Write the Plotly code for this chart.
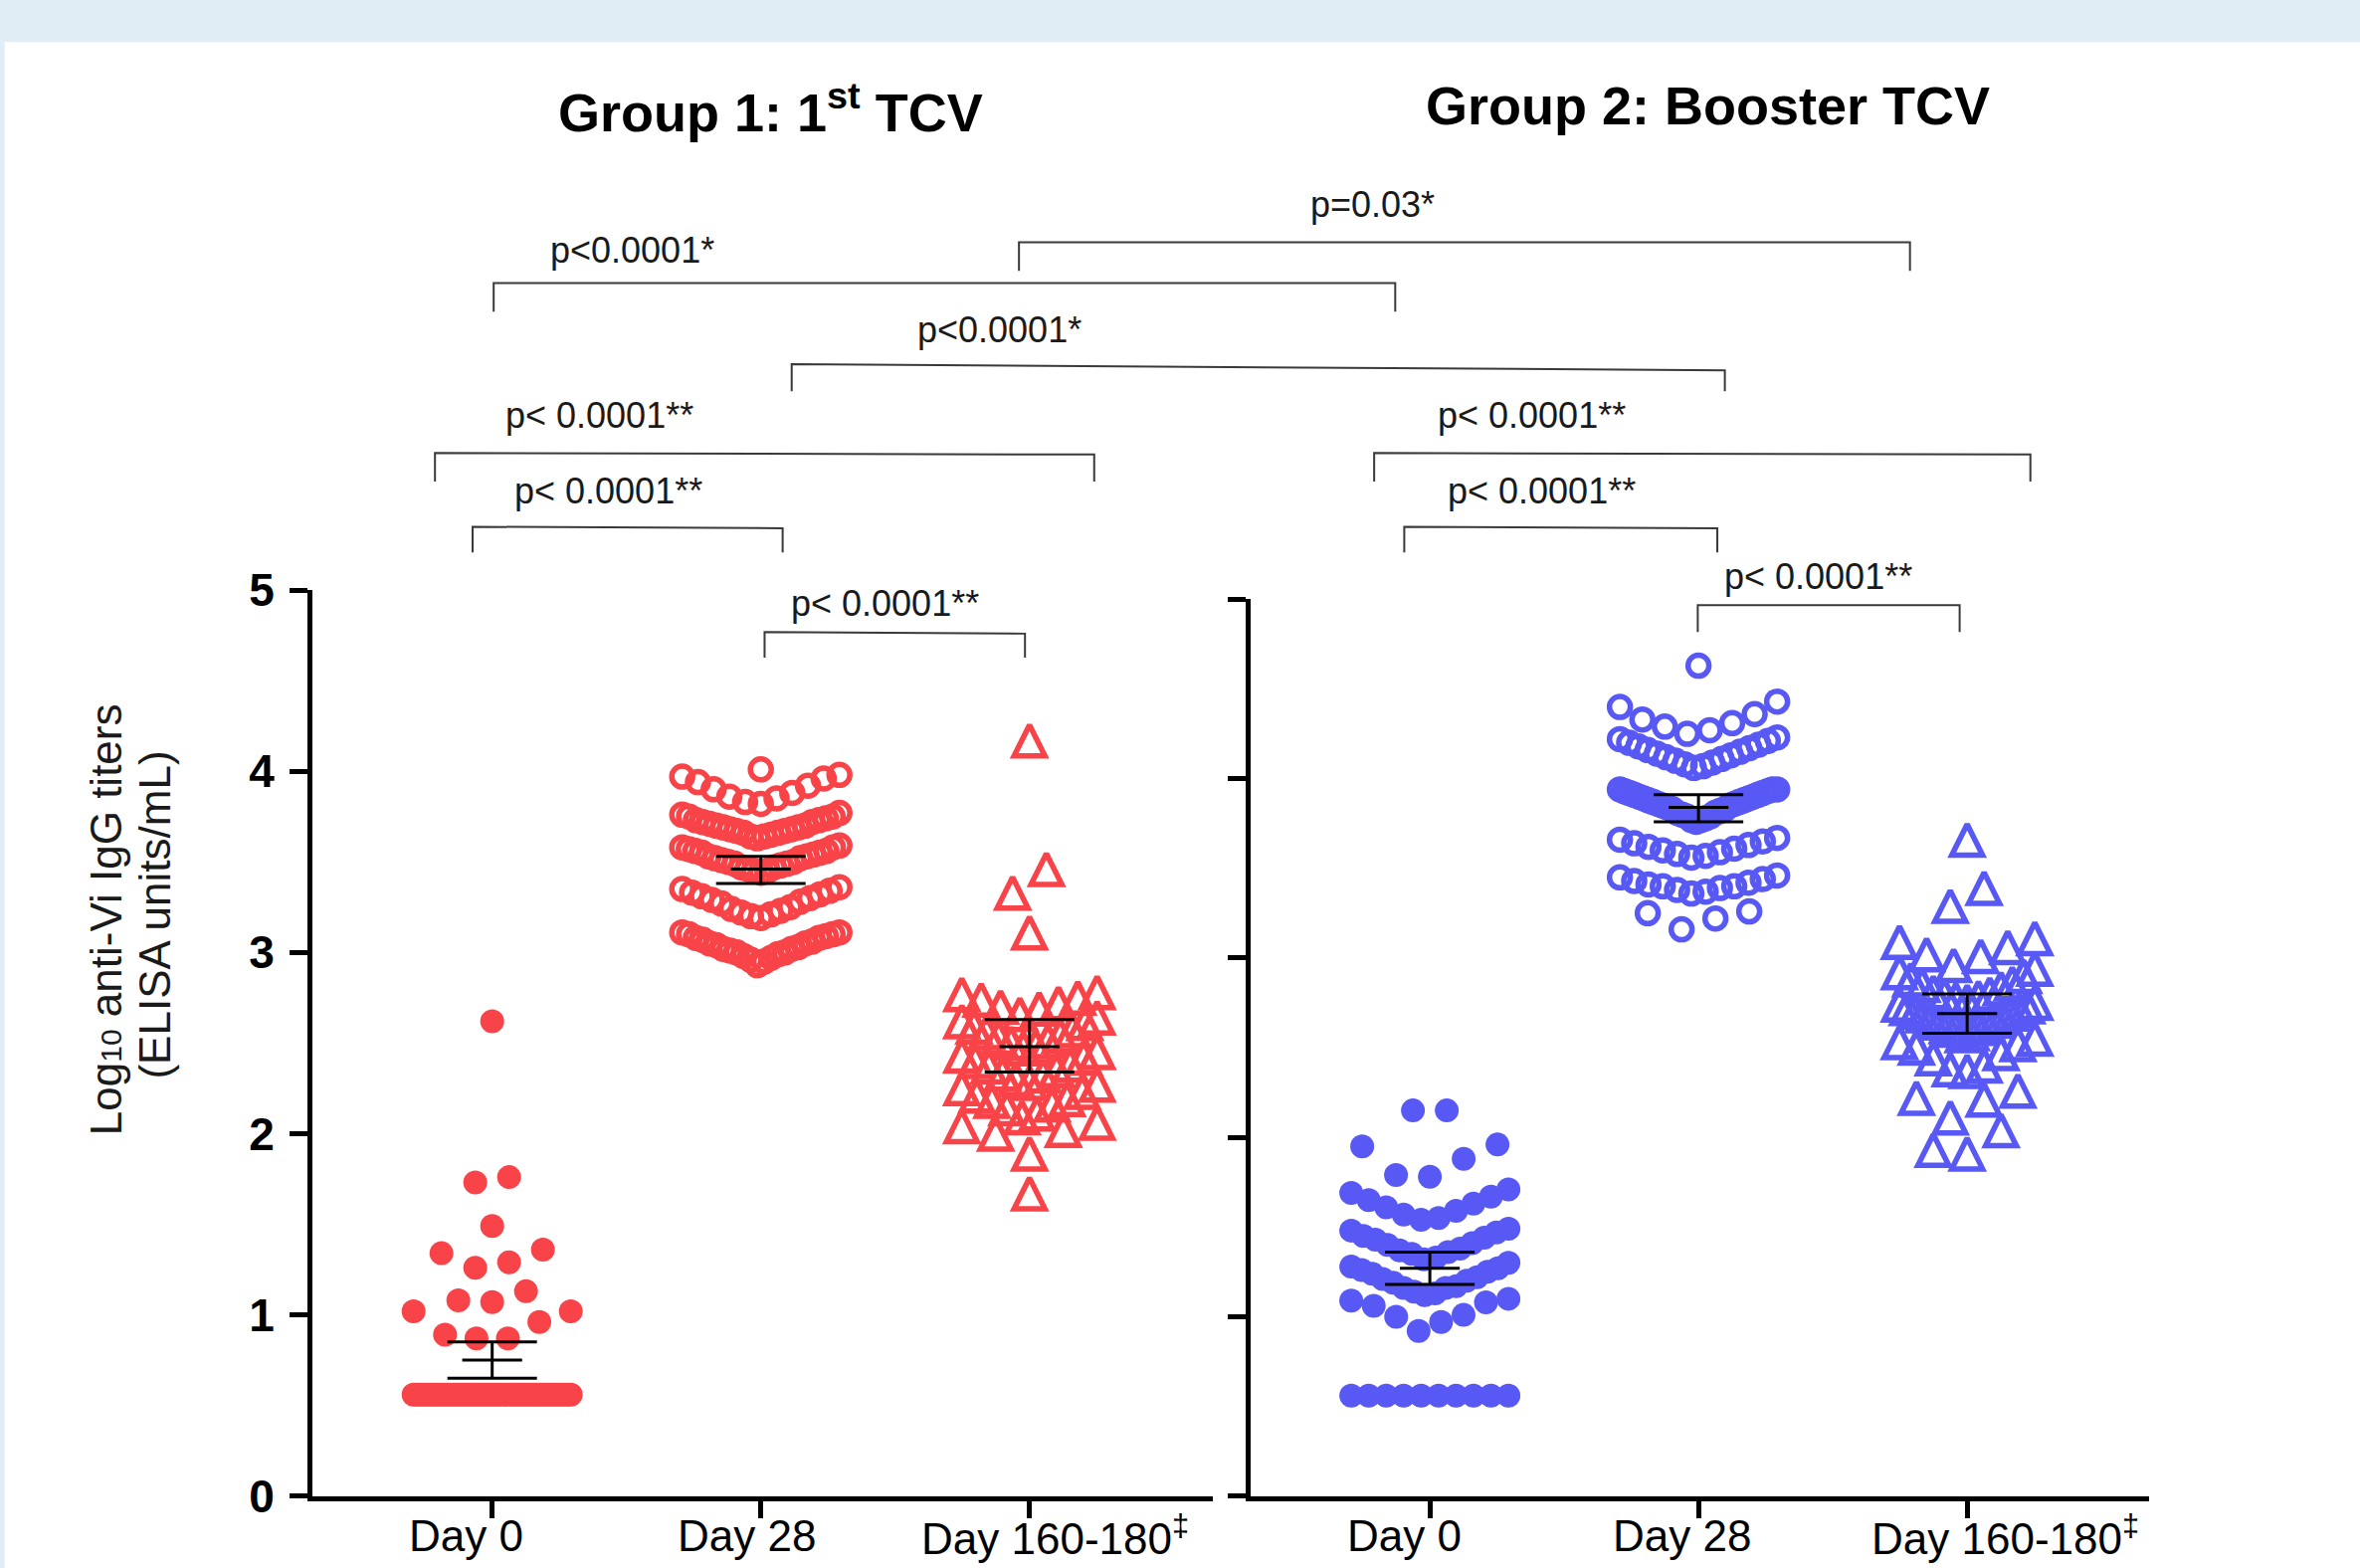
import plotly.graph_objects as go

W, H = 2372, 1576
S = W / 1568.0  # reading scale (picture measured on a 1568-wide view)

# ---------------- data ----------------
CATEGORIES = ["Day 0", "Day 28", "Day 160-180<sup>‡</sup>"]
PANEL_TITLES = ["Group 1: 1<sup>st</sup> TCV", "Group 2: Booster TCV"]
Y_TICKS = [0, 1, 2, 3, 4, 5]

# Group 1 (1st TCV), log10 anti-Vi IgG
G1_DAY0 = [0.56] * 48 + [0.87, 0.87, 0.89, 0.96, 1.02, 1.02, 1.07, 1.08, 1.13,
                         1.26, 1.29, 1.34, 1.36, 1.49, 1.73, 1.76, 2.62]
G1_DAY28 = [2.93, 2.95, 2.96, 2.97, 2.98, 2.99, 3.00, 3.00, 3.01, 3.02, 3.02, 3.03,
            3.04, 3.05, 3.05, 3.06, 3.07, 3.08, 3.08, 3.09, 3.10, 3.10, 3.11, 3.11,
            3.19, 3.20, 3.21, 3.22, 3.23, 3.24, 3.25, 3.27, 3.28, 3.29, 3.30, 3.31,
            3.32, 3.33, 3.34, 3.35, 3.36,
            3.44, 3.45, 3.45, 3.46, 3.47, 3.47, 3.48, 3.49, 3.49, 3.50, 3.50, 3.51,
            3.52, 3.52, 3.53, 3.53, 3.54, 3.55, 3.55, 3.56, 3.56, 3.57, 3.58, 3.58, 3.59,
            3.63, 3.64, 3.64, 3.65, 3.66, 3.66, 3.67, 3.67, 3.68, 3.68, 3.69, 3.69,
            3.70, 3.70, 3.71, 3.72, 3.72, 3.73, 3.73, 3.74, 3.75, 3.75, 3.76, 3.77,
            3.82, 3.83, 3.85, 3.86, 3.88, 3.90, 3.92, 3.94, 3.96, 3.97, 3.98, 4.01]
G1_DAY160 = [1.67, 1.89, 2.00, 2.02, 2.04, 2.06, 2.09, 2.11, 2.14, 2.16, 2.18, 2.19,
             2.21, 2.23, 2.25, 2.27, 2.28, 2.30, 2.32, 2.33, 2.35, 2.37, 2.38, 2.40,
             2.42, 2.43, 2.45, 2.47, 2.48, 2.50, 2.51, 2.53, 2.54, 2.56, 2.57, 2.59,
             2.61, 2.62, 2.64, 2.66, 2.69, 2.70, 2.72, 2.74, 2.75, 2.77, 2.78,
             3.11, 3.33, 3.46, 4.17]

# Group 2 (Booster TCV)
G2_DAY0 = [0.56] * 10 + [0.92, 0.97, 1.00, 1.01, 1.06, 1.08, 1.09, 1.10,
                         1.12, 1.13, 1.14, 1.16, 1.16, 1.17, 1.19, 1.20, 1.21, 1.22,
                         1.24, 1.25, 1.26, 1.27, 1.28, 1.30,
                         1.32, 1.33, 1.35, 1.36, 1.37, 1.38, 1.40, 1.41, 1.43, 1.44,
                         1.45, 1.47, 1.48, 1.49,
                         1.54, 1.55, 1.57, 1.59, 1.61, 1.63, 1.65, 1.67, 1.69, 1.71,
                         1.78, 1.79, 1.88, 1.95, 1.96, 2.15, 2.15]
G2_DAY28 = [3.16, 3.22, 3.25, 3.26,
            3.36, 3.37, 3.38, 3.39, 3.40, 3.40, 3.41, 3.42, 3.43, 3.44, 3.45, 3.46,
            3.56, 3.57, 3.58, 3.59, 3.60, 3.61, 3.62, 3.63, 3.64, 3.65, 3.66, 3.67,
            3.76, 3.77, 3.77, 3.78, 3.79, 3.79, 3.80, 3.81, 3.81, 3.82, 3.83, 3.83,
            3.84, 3.85, 3.85, 3.86, 3.86, 3.87, 3.87, 3.88, 3.88, 3.89, 3.89, 3.90,
            3.90, 3.91, 3.91, 3.92, 3.92, 3.93, 3.93, 3.94, 3.94, 3.94,
            4.06, 4.07, 4.08, 4.09, 4.10, 4.11, 4.12, 4.13, 4.14, 4.15, 4.16, 4.17,
            4.18, 4.19, 4.20, 4.21, 4.22, 4.23,
            4.25, 4.27, 4.29, 4.31, 4.33, 4.36, 4.40, 4.43, 4.63]
G2_DAY160 = [1.91, 1.93, 2.04, 2.11, 2.21, 2.22, 2.26, 2.37, 2.38, 2.40, 2.44, 2.47,
             2.50, 2.52, 2.53, 2.55, 2.57, 2.58, 2.60, 2.61, 2.62, 2.63, 2.64, 2.65,
             2.66, 2.67, 2.68, 2.69, 2.70, 2.71, 2.72, 2.73, 2.74, 2.75, 2.76, 2.77,
             2.78, 2.79, 2.80, 2.81, 2.83, 2.85, 2.86, 2.88, 2.90, 2.92, 2.94, 2.96,
             3.01, 3.02, 3.06, 3.09, 3.11, 3.29, 3.39, 3.66]

# summary: mean with 95% CI
G1_MEAN = [0.75, 3.46, 2.48]
G1_CI_LOW = [0.65, 3.38, 2.34]
G1_CI_HIGH = [0.85, 3.53, 2.63]
G2_MEAN = [1.27, 3.84, 2.69]
G2_CI_LOW = [1.18, 3.76, 2.58]
G2_CI_HIGH = [1.36, 3.91, 2.80]

P_LABELS = ["p=0.03*", "p<0.0001*", "p<0.0001*", "p< 0.0001**", "p< 0.0001**",
            "p< 0.0001**", "p< 0.0001**", "p< 0.0001**", "p< 0.0001**"]

# ---------------- layout geometry (measured, 1568-wide view px) ----------------
BRACKETS = [(677, 1269, 161, 161, 180), (328, 927, 188, 188, 207),
            (526, 1146, 242, 246, 260), (289, 727, 301, 302, 320),
            (913, 1349, 301, 302, 320), (314, 520, 350, 351, 367),
            (933, 1141, 350, 351, 367), (1128, 1302, 402, 402, 420),
            (508, 681, 420, 421, 437)]
P_LABEL_POS = [(912, 136), (420, 166), (664, 219), (398, 276), (1018, 276),
               (404, 326), (1024, 326), (1208, 383), (588, 401)]

RED = "#F84448"
BLUE = "#5858F5"
FONT = "Liberation Sans"
TRI_SIZE = 31  # arrow-up marker: tip at point, body hangs S px below


def px(xd):
    return xd * S / W


def py(yd):
    return 1 - yd * S / H


# axis geometry
X_DOM = [[px(207.4), px(805.6)], [px(831.0), px(1428.0)]]
Y_TOP = [392.0, 398.2]
Y_DOM = [[py(994), py(Y_TOP[0])], [py(994), py(Y_TOP[1])]]
CAT_X = [[327, 506, 684], [950, 1129, 1307]]
X_RANGE = []
PX_PER_CAT = []
for d, c in zip([(207.4, 805.6), (831.0, 1428.0)], CAT_X):
    step = (c[2] - c[0]) / 2.0
    X_RANGE.append([(d[0] - c[0]) / step, (d[1] - c[0]) / step])
    PX_PER_CAT.append(step * S)
PX_PER_Y = [(994 - t) * S / 5.0 for t in Y_TOP]


def swarm(values, ppc, bin_w=0.18, step_px=34.0, max_half_px=79.0):
    order = sorted(range(len(values)), key=lambda i: values[i])
    rows, cur, start = [], [], None
    for i in order:
        v = values[i]
        if cur and v > start + bin_w + 1e-9:
            rows.append(cur)
            cur = []
        if not cur:
            start = v
        cur.append(i)
    if cur:
        rows.append(cur)
    offs = [0.0] * len(values)
    for row in rows:
        n = len(row)
        if n == 1:
            continue
        step = min(step_px, 2 * max_half_px / (n - 1))
        slots = [(k - (n - 1) / 2.0) * step for k in range(n)]
        slots = sorted(slots, key=lambda s: (abs(s), s))
        for idx, s in zip(row, slots):
            offs[idx] = s / ppc
    return offs


fig = go.Figure()

groups = [
    (G1_DAY0, G1_DAY28, G1_DAY160, RED, "x", "y", "y3", 0),
    (G2_DAY0, G2_DAY28, G2_DAY160, BLUE, "x2", "y2", "y4", 1),
]
for d0, d28, d160, col, xa, ya, ya_tri, k in groups:
    ppc = PX_PER_CAT[k]
    o = swarm(d0, ppc)
    fig.add_trace(go.Scatter(x=[0 + a for a in o], y=d0, mode="markers", xaxis=xa, yaxis=ya,
                             marker=dict(symbol="circle", size=24, color=col, line=dict(width=0)),
                             showlegend=False, hoverinfo="y"))
    o = swarm(d28, ppc)
    fig.add_trace(go.Scatter(x=[1 + a for a in o], y=d28, mode="markers", xaxis=xa, yaxis=ya,
                             marker=dict(symbol="circle-open", size=21, color=col, line=dict(width=5.5)),
                             showlegend=False, hoverinfo="y"))
    o = swarm(d160, ppc, max_half_px=68.0)
    fig.add_trace(go.Scatter(x=[2 + a for a in o], y=d160, mode="markers", xaxis=xa, yaxis=ya_tri,
                             marker=dict(symbol="arrow-up-open", size=TRI_SIZE,
                                         color=col, line=dict(width=5.5)),
                             showlegend=False, hoverinfo="y"))

# summary (mean + 95% CI) drawn on top-most overlay scales (same range as main axes)
for mean, lo, hi, xa, ya in [(G1_MEAN, G1_CI_LOW, G1_CI_HIGH, "x", "y5"),
                             (G2_MEAN, G2_CI_LOW, G2_CI_HIGH, "x2", "y6")]:
    fig.add_trace(go.Scatter(
        x=[0, 1, 2], y=mean, mode="markers", xaxis=xa, yaxis=ya,
        marker=dict(symbol="line-ew", size=43, color="black", line=dict(width=3, color="black")),
        error_y=dict(type="data", symmetric=False,
                     array=[h - m for h, m in zip(hi, mean)],
                     arrayminus=[m - l for m, l in zip(mean, lo)],
                     color="black", thickness=3, width=45),
        showlegend=False, hoverinfo="y"))

axis_common = dict(showgrid=False, zeroline=False, showline=True, linecolor="black",
                   linewidth=4.5, ticks="outside", ticklen=18, tickwidth=4.5, tickcolor="black",
                   automargin=False)
hidden = dict(visible=False, showgrid=False, zeroline=False, automargin=False)
d_left = (TRI_SIZE / 2.0) / PX_PER_Y[0]
d_right = (TRI_SIZE / 2.0) / PX_PER_Y[1]
fig.update_layout(
    width=W, height=H, margin=dict(l=0, r=0, t=0, b=0, autoexpand=False),
    paper_bgcolor="white", plot_bgcolor="rgba(0,0,0,0)",
    font=dict(family=FONT, color="black"),
    xaxis=dict(domain=X_DOM[0], range=X_RANGE[0], tickvals=[0, 1, 2], showticklabels=False,
               anchor="y", **axis_common),
    yaxis=dict(domain=Y_DOM[0], range=[0, 5], tickvals=Y_TICKS, anchor="x",
               tickfont=dict(family=FONT, size=46, color="black", weight="bold"),
               ticklabelstandoff=6, **axis_common),
    xaxis2=dict(domain=X_DOM[1], range=X_RANGE[1], tickvals=[0, 1, 2], showticklabels=False,
                anchor="y2", **axis_common),
    yaxis2=dict(domain=Y_DOM[1], range=[0, 5], tickvals=Y_TICKS, anchor="x2",
                showticklabels=False, **axis_common),
    # overlay scales: triangles (tip-anchored symbol centred on value), then summary on top
    yaxis3=dict(overlaying="y", range=[-d_left, 5 - d_left], anchor="x", **hidden),
    yaxis4=dict(overlaying="y2", range=[-d_right, 5 - d_right], anchor="x2", **hidden),
    yaxis5=dict(overlaying="y", range=[0, 5], anchor="x", **hidden),
    yaxis6=dict(overlaying="y2", range=[0, 5], anchor="x2", **hidden),
)

shapes = [
    dict(type="rect", xref="paper", yref="paper", x0=0, x1=1, y0=py(28), y1=1,
         fillcolor="#DFEDF5", line=dict(width=0), layer="below"),
    dict(type="rect", xref="paper", yref="paper", x0=0, x1=px(3), y0=0, y1=1,
         fillcolor="#DFEDF5", line=dict(width=0), layer="below"),
]
for x0, x1, yt0, yt1, yb in BRACKETS:
    shapes.append(dict(type="path", xref="paper", yref="paper",
                       path=f"M {px(x0)},{py(yb)} L {px(x0)},{py(yt0)} L {px(x1)},{py(yt1)} L {px(x1)},{py(yb)}",
                       line=dict(color="#3a3a3a", width=2)))
fig.update_layout(shapes=shapes)

ann = []
for lab, (x, y) in zip(P_LABELS, P_LABEL_POS):
    ann.append(dict(text=lab, x=px(x), y=py(y), xref="paper", yref="paper", showarrow=False,
                    xanchor="center", yanchor="middle", font=dict(size=36, color="#1a1a1a", family=FONT)))
for t, (x, y) in zip(PANEL_TITLES, [(512, 72), (1135, 70)]):
    ann.append(dict(text=f"<b>{t}</b>", x=px(x), y=py(y), xref="paper", yref="paper",
                    showarrow=False, xanchor="center", yanchor="middle",
                    font=dict(size=54, color="black", family=FONT)))
LABEL_SHIFT = [[-26, -14, 26], [-26, -17, 38]]
for k, xa in enumerate(["x", "x2"]):
    for i, cat in enumerate(CATEGORIES):
        ann.append(dict(text=cat, x=i, y=py(1020), xref=xa, yref="paper", showarrow=False,
                        xanchor="center", yanchor="middle", xshift=LABEL_SHIFT[k][i],
                        font=dict(size=44, color="black", family=FONT)))
ann.append(dict(text="Log<span style='font-size:30px'>10</span> anti-Vi IgG titers",
                x=px(70), y=py(611), xref="paper", yref="paper", showarrow=False, textangle=-90,
                xanchor="center", yanchor="middle", font=dict(size=44, color="#1a1a1a", family=FONT)))
ann.append(dict(text="(ELISA units/mL)", x=px(103), y=py(608), xref="paper", yref="paper",
                showarrow=False, textangle=-90, xanchor="center", yanchor="middle",
                font=dict(size=44, color="#1a1a1a", family=FONT)))
fig.update_layout(annotations=ann)

fig.write_html("out.html", config={"displayModeBar": False},
               post_script="document.body.style.margin='0';document.body.style.padding='0';")
